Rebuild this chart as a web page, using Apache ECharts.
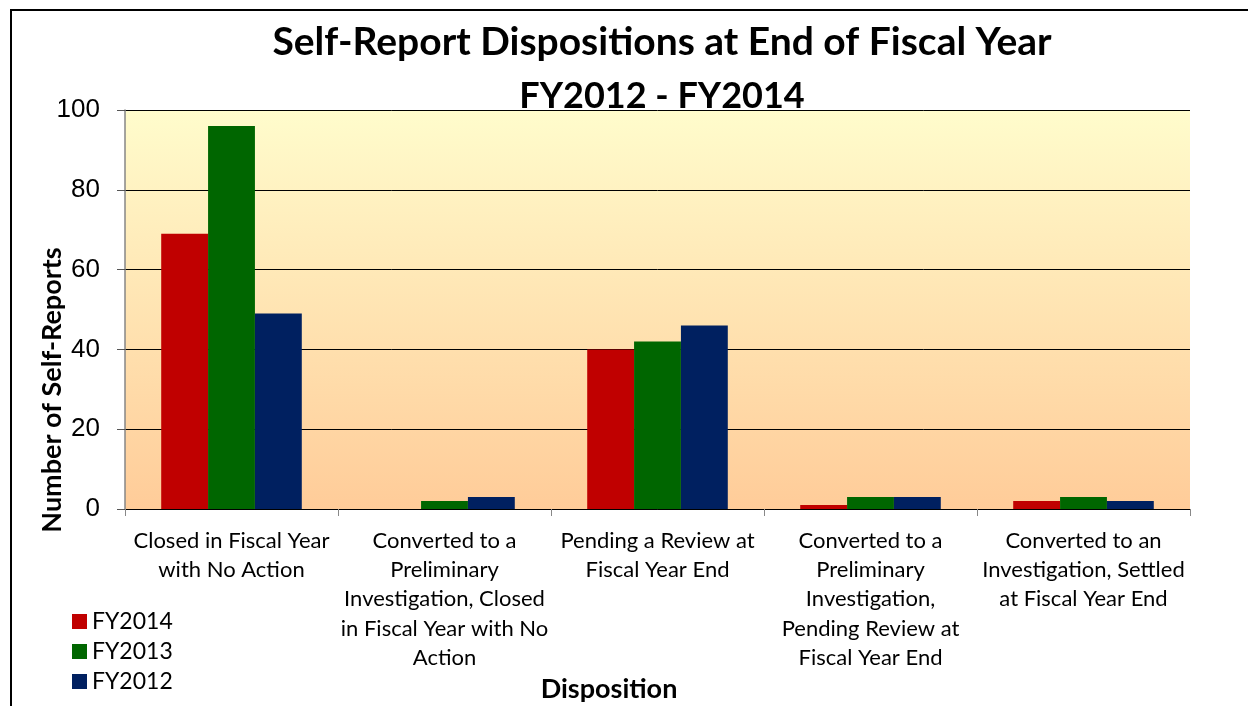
<!DOCTYPE html>
<html><head><meta charset="utf-8">
<script src="https://cdn.jsdelivr.net/npm/echarts@6/dist/echarts.min.js"></script>
<style>html,body{margin:0;padding:0;background:#fff}#c{width:1248px;height:706px}</style>
</head><body><div id="c"></div>
<script>
const titleLine1 = 'Self-Report Dispositions at End of Fiscal Year';
const titleLine2 = 'FY2012 - FY2014';
const yAxisTitle = 'Number of Self-Reports';
const xAxisTitle = 'Disposition';
const categories = [
  'Closed in Fiscal Year\nwith No Action',
  'Converted to a\nPreliminary\nInvestigation, Closed\nin Fiscal Year with No\nAction',
  'Pending a Review at\nFiscal Year End',
  'Converted to a\nPreliminary\nInvestigation,\nPending Review at\nFiscal Year End',
  'Converted to an\nInvestigation, Settled\nat Fiscal Year End'
];
const seriesNames = ['FY2014', 'FY2013', 'FY2012'];
const fy2014 = [69, 0, 40, 1, 2];
const fy2013 = [96, 2, 42, 3, 3];
const fy2012 = [49, 3, 46, 3, 2];
const colors = ['#C00000', '#006600', '#002060'];

const chart = echarts.init(document.getElementById('c'), null, {renderer: 'canvas'});
const cal = 'Lato, "Open Sans", sans-serif';
const ari = '"Liberation Sans", Arial, sans-serif';
const dataSets = [fy2014, fy2013, fy2012];
chart.setOption({
  animation: false,
  backgroundColor: '#fff',
  title: [
    {text: titleLine1, left: 657, top: 18, textAlign: 'center',
     textStyle: {fontFamily: cal, fontWeight: 'bold', fontSize: 39, color: '#000'}},
    {text: titleLine2, left: 657, top: 73, textAlign: 'center',
     textStyle: {fontFamily: cal, fontWeight: 'bold', fontSize: 36, color: '#000'}}
  ],
  legend: {
    orient: 'vertical', left: 67, top: 605, itemWidth: 15, itemHeight: 15, itemGap: 7,
    icon: 'rect', data: seriesNames,
    textStyle: {fontFamily: cal, fontSize: 23, color: '#000'}
  },
  grid: {left: 125, right: 58, top: 110, bottom: 197, show: true, borderWidth: 0,
    backgroundColor: {type: 'linear', x: 0, y: 0, x2: 0, y2: 1,
      colorStops: [{offset: 0, color: '#FFFCCC'}, {offset: 1, color: '#FFCC99'}]}},
  xAxis: {
    type: 'category', data: categories,
    axisLine: {lineStyle: {color: '#000', width: 1}},
    axisTick: {show: true, length: 7, lineStyle: {color: '#888'}},
    axisLabel: {interval: 0, margin: 17, fontFamily: cal, fontSize: 22, color: '#000', lineHeight: 29.3, align: 'center'},
    splitLine: {show: false}
  },
  yAxis: {
    type: 'value', min: 0, max: 100, interval: 20,
    axisLine: {show: true, lineStyle: {color: '#868686', width: 1.5}},
    axisTick: {show: true, length: 8, lineStyle: {color: '#555'}},
    axisLabel: {margin: 25, fontFamily: ari, fontSize: 26, color: '#000'},
    splitLine: {lineStyle: {color: '#000', width: 1}}
  },
  graphic: [
    {type: 'polyline', shape: {points: [[11, 800], [11, 10], [1300, 10]]}, z: -1,
     style: {fill: 'none', stroke: '#000', lineWidth: 2}},
    {type: 'text', x: 52, y: 390, rotation: Math.PI / 2, origin: [0,0],
     style: {text: yAxisTitle, fontFamily: cal, fontWeight: 'bold', fontSize: 27, fill: '#000', textAlign: 'center', textVerticalAlign: 'middle'}},
    {type: 'text', x: 609, y: 689,
     style: {text: xAxisTitle, fontFamily: cal, fontWeight: 'bold', fontSize: 27, fill: '#000', textAlign: 'center', textVerticalAlign: 'middle'}}
  ],
  series: seriesNames.map((n, i) => ({
    name: n, type: 'bar', data: dataSets[i], barGap: '0%', barCategoryGap: '34%',
    itemStyle: {color: colors[i]}
  }))
});
</script></body></html>
